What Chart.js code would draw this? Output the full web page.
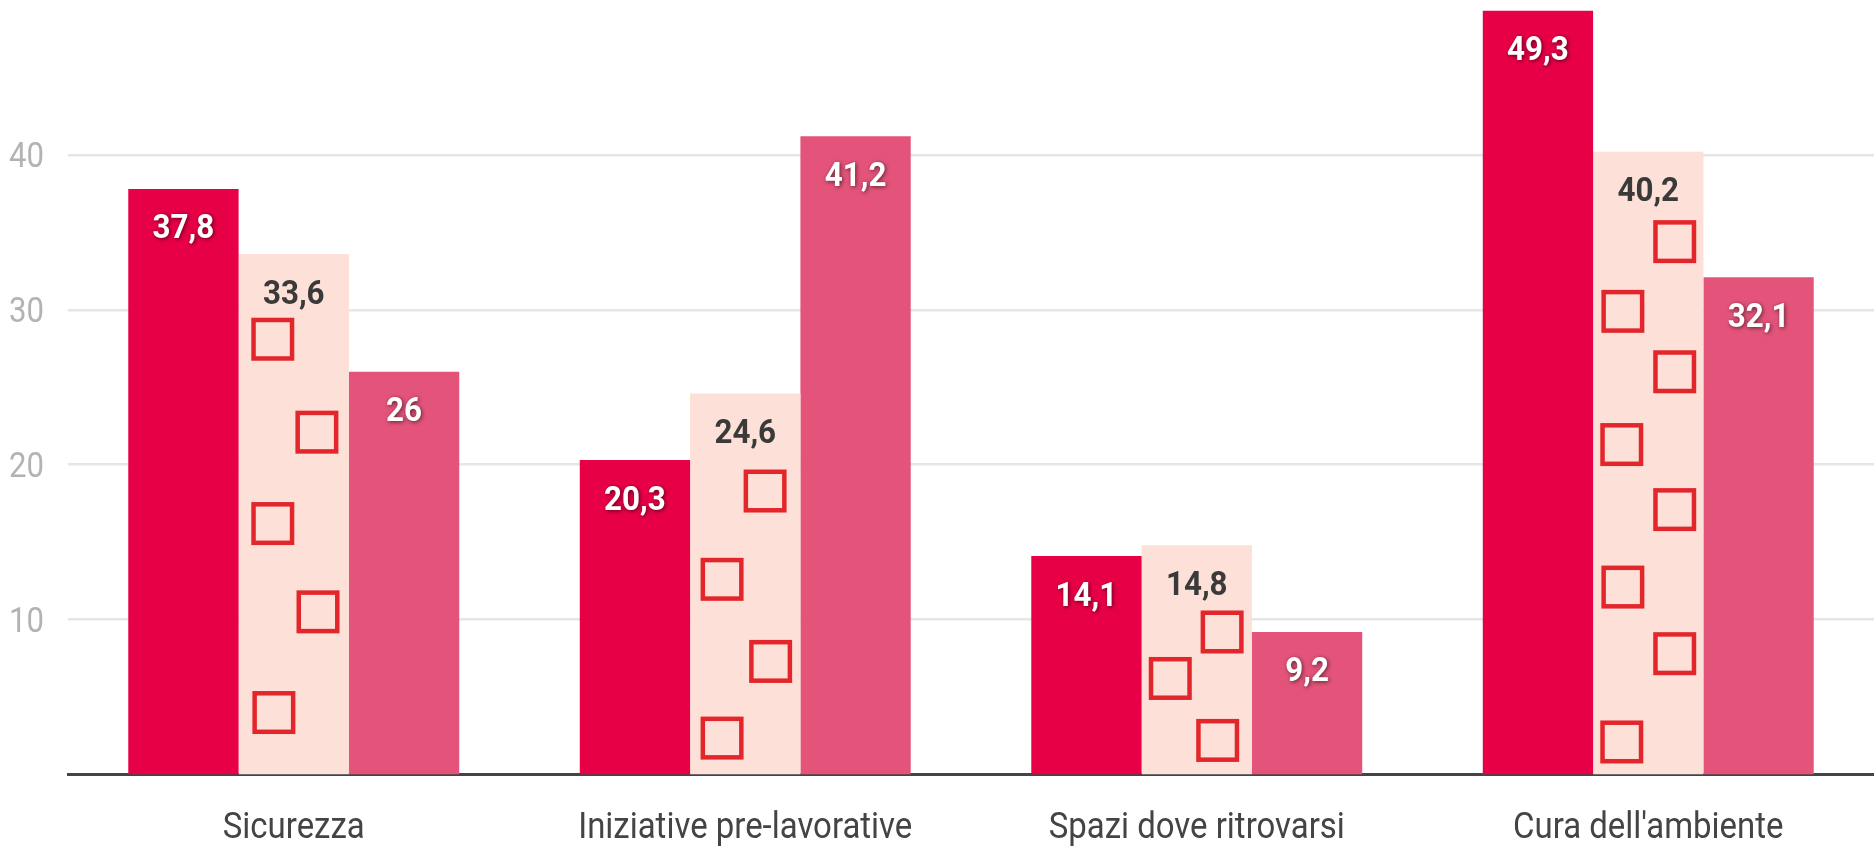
<!DOCTYPE html>
<html>
<head>
<meta charset="utf-8">
<script src="https://cdn.jsdelivr.net/npm/chart.js@4"></script>
<style>
  html, body { margin: 0; padding: 0; background: #ffffff; }
  #wrap { position: relative; width: 1874px; height: 850px; }
</style>
</head>
<body>
<div id="wrap"><canvas id="c"></canvas></div>
<script>
// ---- DATA ----
const categories = ["Sicurezza", "Iniziative pre-lavorative", "Spazi dove ritrovarsi", "Cura dell'ambiente"];
const seriesA = [37.8, 20.3, 14.1, 49.3];
const seriesB = [33.6, 24.6, 14.8, 40.2];
const seriesC = [26, 41.2, 9.2, 32.1];
const yTicks = [10, 20, 30, 40];

// decorative hollow squares inside the middle series (value level of each square, per category)
const squareLevels = [
  [28.1, 22.1, 16.2, 10.5, 4.0],
  [18.3, 12.6, 7.3, 2.35],
  [9.2, 6.2, 2.2],
  [34.4, 29.9, 26.0, 21.3, 17.1, 12.1, 7.8, 2.1]
];
// horizontal placement of each square, as a fraction of the bar width
const squareAcross = [
  [0.31, 0.71, 0.31, 0.72, 0.32],
  [0.68, 0.29, 0.73, 0.29],
  [0.73, 0.26, 0.69],
  [0.74, 0.27, 0.74, 0.26, 0.74, 0.27, 0.74, 0.26]
];

// ---- STYLE ----
const colA = '#E80046';
const colB = '#FDE0D7';
const colC = '#E4547A';
const squareColor = '#E3262C';

function fmt(v) { return String(v).replace('.', ','); }

function condensedText(ctx, text, x, y, font, color, sx, align) {
  ctx.save();
  ctx.font = font;
  ctx.fillStyle = color;
  ctx.textAlign = align;
  ctx.textBaseline = 'alphabetic';
  ctx.translate(x, y);
  ctx.scale(sx, 1);
  ctx.fillText(text, 0, 0);
  ctx.restore();
}

const decorPlugin = {
  id: 'decor',
  afterDatasetsDraw(chart) {
    const ctx = chart.ctx;
    const yScale = chart.scales.y;
    // squares on middle series
    const metaB = chart.getDatasetMeta(1);
    ctx.save();
    ctx.strokeStyle = squareColor;
    ctx.lineWidth = 4.5;
    metaB.data.forEach((bar, i) => {
      const left = bar.x - bar.width / 2;
      const side = 38.5;
      squareLevels[i].forEach((lvl, k) => {
        const cx = left + bar.width * squareAcross[i][k];
        const cy = yScale.getPixelForValue(lvl);
        ctx.strokeRect(cx - side / 2, cy - side / 2, side, side);
      });
    });
    ctx.restore();

    // value labels
    chart.data.datasets.forEach((ds, di) => {
      const meta = chart.getDatasetMeta(di);
      meta.data.forEach((bar, i) => {
        ctx.save();
        ctx.font = 'bold 33px Roboto';
        ctx.textAlign = 'center';
        ctx.textBaseline = 'alphabetic';
        if (di === 1) {
          ctx.fillStyle = '#3a3a3a';
        } else {
          ctx.fillStyle = '#ffffff';
          ctx.shadowColor = 'rgba(0,0,0,0.6)';
          ctx.shadowBlur = 4;
          ctx.shadowOffsetX = 1;
          ctx.shadowOffsetY = 1;
        }
        ctx.translate(bar.x, bar.y + 49.5);
        ctx.scale(0.95, 1);
        ctx.fillText(fmt(ds.data[i]), 0, 0);
        ctx.restore();
      });
    });
  },
  afterDraw(chart) {
    const ctx = chart.ctx;
    const xs = chart.scales.x, ys = chart.scales.y;
    categories.forEach((c, i) => {
      condensedText(ctx, c, xs.getPixelForTick(i), xs.top + 63.5, '36px Roboto', '#444444', 0.915, 'center');
    });
    yTicks.forEach(v => {
      condensedText(ctx, String(v), ys.right - 24, ys.getPixelForValue(v) + 12.3, '35px Roboto', '#b3b3b3', 0.89, 'right');
    });
  }
};

function build() {
  new Chart(document.getElementById('c'), {
    type: 'bar',
    data: {
      labels: categories,
      datasets: [
        { data: seriesA, backgroundColor: colA },
        { data: seriesB, backgroundColor: colB },
        { data: seriesC, backgroundColor: colC }
      ]
    },
    options: {
      responsive: true,
      maintainAspectRatio: false,
      animation: false,
      devicePixelRatio: 1,
      layout: { padding: 0 },
      datasets: { bar: { barPercentage: 1, categoryPercentage: 0.733, borderWidth: 0 } },
      plugins: { legend: { display: false }, tooltip: { enabled: false } },
      scales: {
        x: {
          grid: { display: false, drawTicks: false },
          border: { display: true, color: '#444444', width: 3 },
          ticks: { display: false },
          afterFit(s) { s.height = 75.5; s.paddingLeft = 0; s.paddingRight = 0; }
        },
        y: {
          min: 0, max: 50,
          grid: { color: '#e6e6e6', lineWidth: 2.5, drawTicks: false },
          border: { display: false },
          ticks: { display: false, stepSize: 10 },
          afterBuildTicks(s) { s.ticks = yTicks.map(v => ({ value: v })); },
          afterFit(s) { s.width = 68; s.paddingTop = 0; s.paddingBottom = 0; }
        }
      }
    },
    plugins: [decorPlugin]
  });
}

if (document.fonts && document.fonts.load) {
  Promise.all([document.fonts.load('bold 33px Roboto'), document.fonts.load('36px Roboto')]).then(build, build);
} else { build(); }
</script>
</body>
</html>
